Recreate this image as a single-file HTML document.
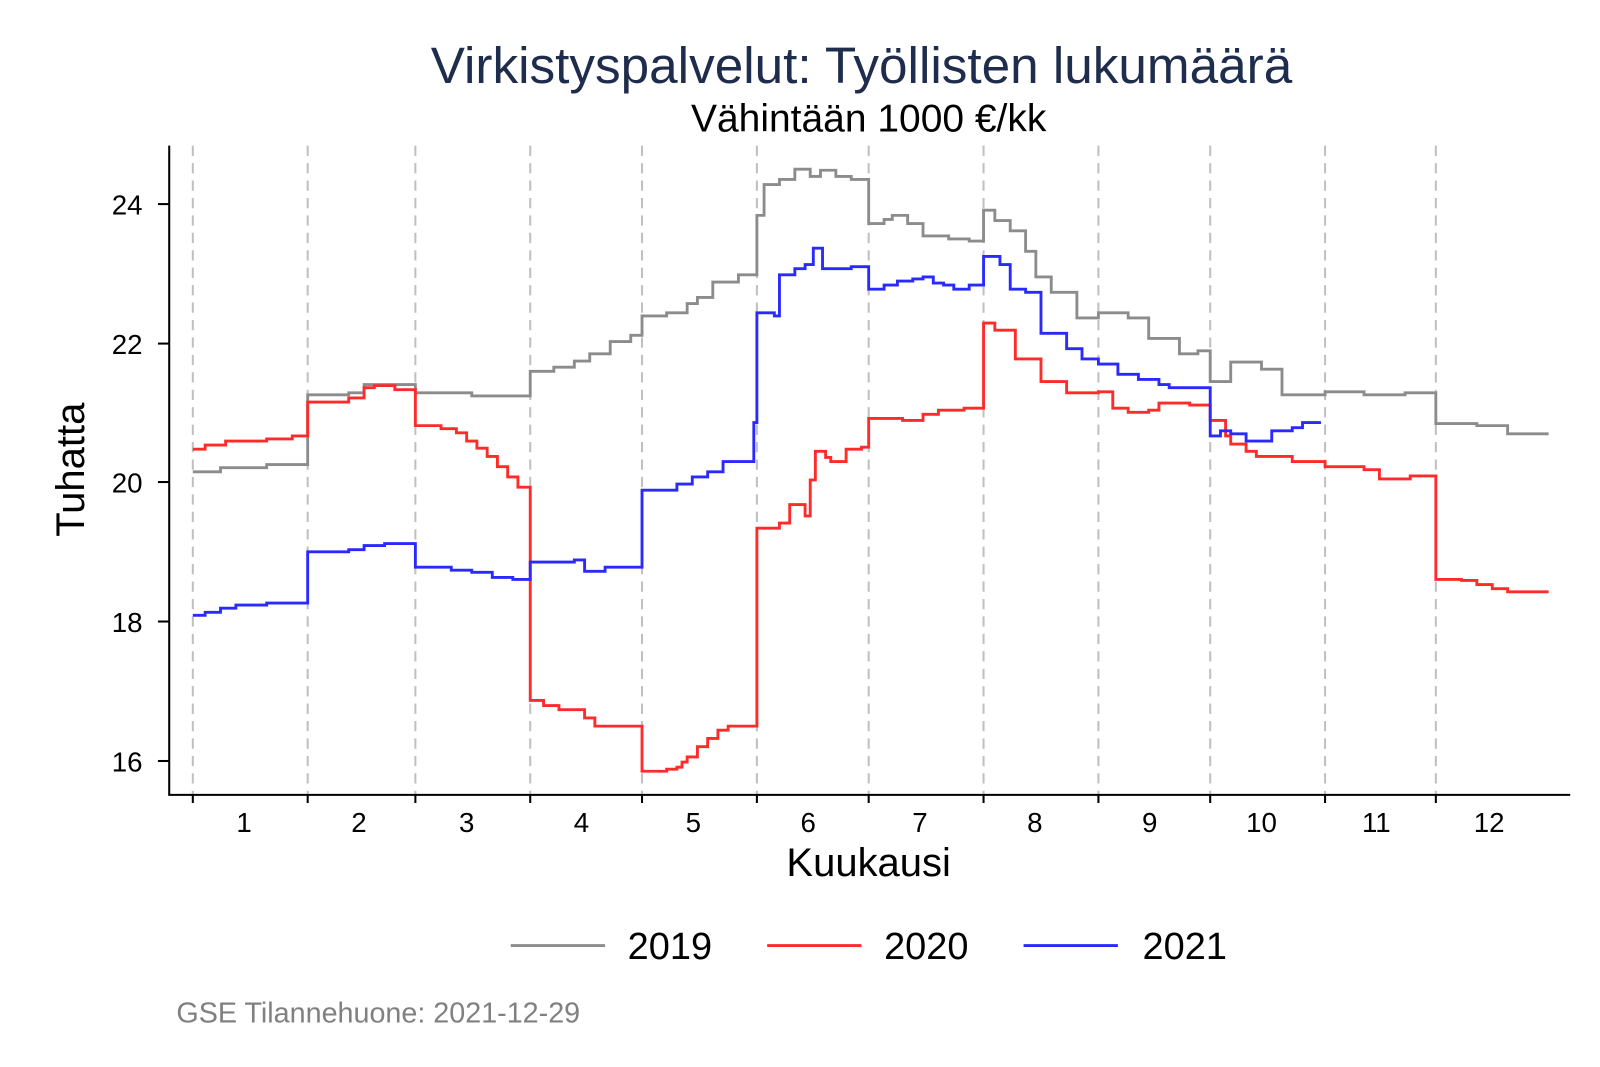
<!DOCTYPE html>
<html><head><meta charset="utf-8"><style>
html,body{margin:0;padding:0;background:#fff;}
svg{display:block;font-family:"Liberation Sans",Arial,sans-serif;}
</style></head><body>
<svg width="1600" height="1067" viewBox="0 0 1600 1067" xmlns="http://www.w3.org/2000/svg">
<rect width="1600" height="1067" fill="#fff"/>
<g transform="scale(1.0256)">
<text x="840" y="81" font-size="50" fill="#1f2d4d" text-anchor="middle">Virkistyspalvelut: Työllisten lukumäärä</text>
<text x="847" y="128" font-size="38" fill="#000" text-anchor="middle">Vähintään 1000 €/kk</text>
<g stroke="#c0c0c0" stroke-width="2" stroke-dasharray="10,7">
<line x1="188" y1="142" x2="188" y2="775"/><line x1="300" y1="142" x2="300" y2="775"/>
<line x1="405" y1="142" x2="405" y2="775"/><line x1="517" y1="142" x2="517" y2="775"/>
<line x1="626" y1="142" x2="626" y2="775"/><line x1="738" y1="142" x2="738" y2="775"/>
<line x1="847" y1="142" x2="847" y2="775"/><line x1="959" y1="142" x2="959" y2="775"/>
<line x1="1071" y1="142" x2="1071" y2="775"/><line x1="1180" y1="142" x2="1180" y2="775"/>
<line x1="1292" y1="142" x2="1292" y2="775"/><line x1="1400" y1="142" x2="1400" y2="775"/>
</g>
<g stroke="#000" stroke-width="2" fill="none">
<line x1="165" y1="142" x2="165" y2="775"/><line x1="164" y1="775" x2="1531" y2="775"/>
<line x1="154" y1="199" x2="165" y2="199"/><line x1="154" y1="335" x2="165" y2="335"/>
<line x1="154" y1="470" x2="165" y2="470"/><line x1="154" y1="606" x2="165" y2="606"/>
<line x1="154" y1="742" x2="165" y2="742"/>
<path d="M188 775v8M300 775v8M405 775v8M517 775v8M626 775v8M738 775v8M847 775v8M959 775v8M1071 775v8M1180 775v8M1292 775v8M1400 775v8"/>
</g>
<g font-size="27" text-anchor="end" fill="#000">
<text x="139" y="209">24</text><text x="139" y="345">22</text><text x="139" y="480">20</text><text x="139" y="616">18</text><text x="139" y="752">16</text>
</g>
<g font-size="27" text-anchor="middle" fill="#000">
<text x="238" y="811">1</text><text x="350" y="811">2</text><text x="455" y="811">3</text><text x="567" y="811">4</text>
<text x="676" y="811">5</text><text x="788" y="811">6</text><text x="897" y="811">7</text><text x="1009" y="811">8</text>
<text x="1121" y="811">9</text><text x="1230" y="811">10</text><text x="1342" y="811">11</text><text x="1452" y="811">12</text>
</g>
<text x="847" y="854" font-size="39" text-anchor="middle">Kuukausi</text>
<text transform="translate(82,458) rotate(-90)" font-size="39" text-anchor="middle">Tuhatta</text>
<g fill="none" stroke-width="2.8" stroke-linejoin="miter">
<path stroke="#8c8c8c" d="M188 460H215V456H260V453H300V385H340V383H355V375H405V383H460V386H517V362H540V358H560V352H575V345H595V333H615V327H626V308H650V305H670V296H680V290H695V275H720V268H738V210H745V180H760V175H775V165H790V172H800V166H815V172H830V175H847V218H862V214H870V210H885V218H900V230H925V233H945V235H959V205H970V215H985V225H1000V245H1010V270H1025V285H1050V310H1071V305H1100V310H1120V330H1150V345H1168V342H1180V372H1200V353H1230V360H1250V385H1292V382H1330V385H1370V383H1400V413H1440V415H1470V423H1510"/>
<path stroke="#ff2a2a" d="M188 438H200V434H220V430H260V428H285V425H300V392H340V388H355V378H365V376H385V380H405V415H430V418H445V422H455V430H465V437H475V445H485V455H495V465H505V475H517V485H517V683H530V688H545V692H570V700H580V708H626V752H650V750H660V748H665V743H670V738H680V728H690V720H700V712H710V708H738V515H760V510H770V492H785V503H790V468H795V440H805V446H810V450H825V438H840V436H847V408H880V410H900V404H915V400H940V398H959V315H970V322H990V350H1015V372H1040V383H1071V382H1085V398H1100V402H1120V400H1130V393H1160V395H1180V410H1195V425H1200V433H1215V440H1225V445H1260V450H1292V455H1330V458H1345V467H1375V464H1400V565H1425V566H1440V570H1455V574H1470V577H1510"/>
<path stroke="#2a2aff" d="M188 600H200V597H215V593H230V590H260V588H300V538H340V536H355V532H375V530H405V553H440V556H460V558H480V563H500V565H517V548H560V546H570V557H590V553H626V478H660V472H675V465H690V460H705V450H735V412H738V305H755V308H760V268H775V262H785V258H793V242H802V262H815V262H830V260H847V282H862V278H875V274H890V272H900V270H910V276H920V278H930V282H945V278H959V250H975V258H985V282H1000V285H1015V325H1040V340H1055V350H1071V355H1090V365H1110V370H1130V375H1140V378H1180V425H1190V420H1200V423H1215V430H1240V420H1260V417H1270V412H1288"/>
</g>
<g stroke-width="2.8">
<line x1="498" y1="922" x2="590" y2="922" stroke="#8c8c8c"/>
<line x1="748" y1="922" x2="840" y2="922" stroke="#ff2a2a"/>
<line x1="998" y1="922" x2="1090" y2="922" stroke="#2a2aff"/>
</g>
<g font-size="37" fill="#000">
<text x="612" y="935">2019</text><text x="862" y="935">2020</text><text x="1114" y="935">2021</text>
</g>
<text x="172" y="997" font-size="28" fill="#808080">GSE Tilannehuone: 2021-12-29</text>
</g>
</svg>
</body></html>
